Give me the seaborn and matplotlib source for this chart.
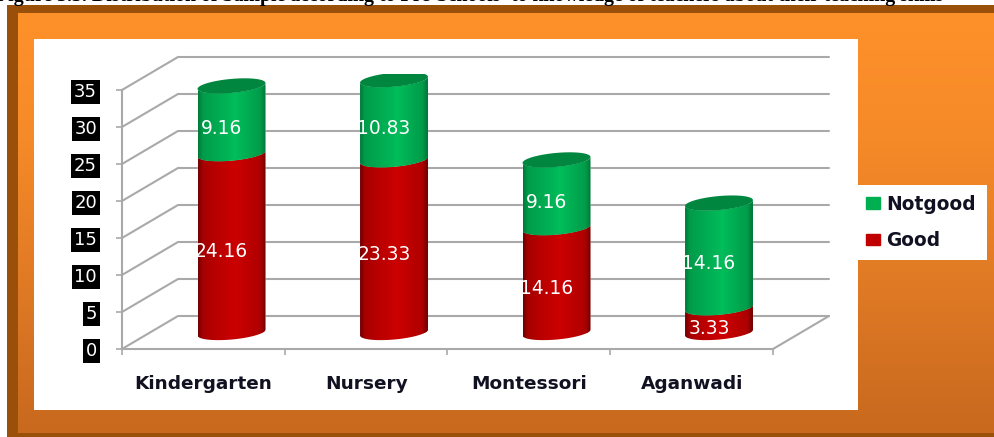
#!/usr/bin/env python
# -*- coding: utf-8 -*-

import numpy as np
import matplotlib
matplotlib.use("Agg")
import matplotlib.pyplot as plt
import seaborn as sns
from matplotlib.colors import LinearSegmentedColormap
from matplotlib.patches import Patch, Polygon, Rectangle

# ==========================
# Data
# ==========================
categories = ['Kindergarten', 'Nursery', 'Montessori', 'Aganwadi']
good = [24.16, 23.33, 14.16, 3.33]
notgood = [9.16, 10.83, 9.16, 14.16]
y_ticks = [0, 5, 10, 15, 20, 25, 30, 35]
title_text = "Figure 3.3. Distribution of Sample according to Pre-Schools' to knowledge of teachers about their teaching skills"

W, H = 995, 437
GRID = '#a9a9a9'
DEPTH_X = 56 / 162.75   # wall depth in category units
DEPTH_Y = 33 / 7.4      # wall depth in value units
CAP_B = 0.95            # ellipse half height, value units
CAP_TILT = 0.4          # ellipse tilt, value units

sns.set_theme(style="white")
plt.rcParams['font.family'] = ['DejaVu Sans']

fig = plt.figure(figsize=(W / 100, H / 100), dpi=100, facecolor='white')


def px_axes(x0, y0, x1, y1):
    # axes given in picture pixels (y going down)
    return fig.add_axes([x0 / W, 1 - y1 / H, (x1 - x0) / W, (y1 - y0) / H])


# ------ Frame and panels ------
bg = px_axes(0, 0, W, H)
bg.set_xlim(0, W)
bg.set_ylim(H, 0)
bg.axis('off')
bg.add_patch(Rectangle((7, 5), W, H, color='#9b500a', lw=0))
orange = LinearSegmentedColormap.from_list(
    'orange', [(0, '#ff912a'), (0.3, '#f58a28'), (0.7, '#dc7724'), (1, '#c8691e')])
bg.imshow(np.linspace(0, 1, 256).reshape(-1, 1), cmap=orange, aspect='auto',
          extent=(18, W, 433, 13), zorder=1)
bg.set_xlim(0, W)
bg.set_ylim(H, 0)
bg.add_patch(Rectangle((34, 39), 824, 371, color='white', lw=0, zorder=2))
bg.add_patch(Rectangle((858, 185), 129, 75, color='white', lw=0, zorder=2))
# the caption is cut by the top edge in the reference as well
fig.text(-4 / W, 1 - 1.5 / H, title_text, family='Liberation Serif', weight='bold',
         fontsize=14.3, color='black', va='baseline')

# ------ Front plane: walls, ticks, labels ------
front = px_axes(122, 90, 773, 349)
front.patch.set_visible(False)
front.set_xlim(-0.5, 3.5)
front.set_ylim(0, 35)
for v in y_ticks:
    front.plot([-0.5, -0.5 + DEPTH_X, 3.5 + DEPTH_X], [v, v + DEPTH_Y, v + DEPTH_Y],
               color=GRID, lw=1.5, clip_on=False, zorder=1)
front.plot([3.5, 3.5 + DEPTH_X], [0, DEPTH_Y], color=GRID, lw=1.5, clip_on=False, zorder=1)

for side in ['top', 'right']:
    front.spines[side].set_visible(False)
for side in ['left', 'bottom']:
    front.spines[side].set_color(GRID)
    front.spines[side].set_linewidth(1.5)

front.set_yticks(y_ticks)
front.set_yticklabels([str(v) for v in y_ticks], color='white', fontsize=13)
front.tick_params(axis='y', left=True, length=4.5, width=1.2, color=GRID, pad=13.5)
for lab in front.get_yticklabels():
    lab.set_bbox(dict(facecolor='black', edgecolor='none', pad=2))

front.set_xticks(range(len(categories)))
front.set_xticklabels(categories, fontsize=13.3, weight='bold', color='#111122')
front.set_xticks(np.arange(-0.5, 4), minor=True)
front.tick_params(axis='x', which='major', bottom=False, length=0, pad=19)
front.tick_params(axis='x', which='minor', bottom=True, length=4.5, width=1.2, color=GRID)

# ------ Bars, in the plane halfway through the depth ------
# value axis runs a little below zero so the rounded cylinder bottoms are not cut
ax = px_axes(150.25, 73.5, 800.25, 332.5 + 3 * 7.4)
ax.patch.set_visible(False)
sns.barplot(x=categories, y=good, color='#c00000', saturation=1, width=0.418, ax=ax)
n_good = len(ax.patches)
sns.barplot(x=categories, y=notgood, bottom=good, color='#00b050', saturation=1, width=0.418, ax=ax)
ax.axis('off')

red_map = LinearSegmentedColormap.from_list(
    'red', [(0, '#720000'), (0.07, '#a60000'), (0.25, '#b80000'), (0.55, '#cc0000'),
            (0.92, '#ae0000'), (1, '#6e0000')])
green_map = LinearSegmentedColormap.from_list(
    'green', [(0, '#007a3a'), (0.07, '#009c4a'), (0.25, '#00a850'), (0.55, '#00bd5a'),
              (0.92, '#009c4a'), (1, '#00763a')])

t_front = np.linspace(np.pi, 2 * np.pi, 50)
t_cap = np.linspace(0, 2 * np.pi, 80)

for i, p in enumerate(ax.patches):
    cx = p.get_x() + p.get_width() / 2
    a = p.get_width() / 2
    v0, v1 = p.get_y(), p.get_y() + p.get_height()
    arc_x = cx + a * np.cos(t_front)
    arc_y = CAP_B * np.sin(t_front) + CAP_TILT * np.cos(t_front)
    body = np.vstack([np.column_stack([arc_x, v0 + arc_y]),
                      np.column_stack([arc_x[::-1], v1 + arc_y[::-1]])])
    cap_x = cx + a * np.cos(t_cap)
    cap_y = v1 + CAP_B * np.sin(t_cap) + CAP_TILT * np.cos(t_cap)
    sil = Polygon(body, transform=ax.transData)
    # the plain bar stays underneath, the shaded body goes on top of it
    p.set_clip_path(sil)
    p.set_zorder(2)
    cmap = red_map if i < n_good else green_map
    im = ax.imshow(np.linspace(0, 1, 128).reshape(1, -1), cmap=cmap, aspect='auto',
                   extent=(cx - a, cx + a, v0 - 2, v1 + 2), zorder=3)
    im.set_clip_path(sil)
    if i >= n_good:
        ax.add_patch(Polygon(np.column_stack([cap_x, cap_y]), color='#00863f', lw=0, zorder=4))
    mid = v0 + p.get_height() / 2
    val = good[i] if i < n_good else notgood[i - n_good]
    ax.annotate(f"{val:.2f}", (cx, mid), xytext=(-7.2, -6.1), textcoords='offset points',
                ha='center', va='center', color='white', fontsize=13.4, zorder=5,
                annotation_clip=False)

ax.set_xlim(-0.5, 3.5)
ax.set_ylim(-3, 35)

# ------ Legend ------
handles = [Patch(color='#00b050', label='Notgood'), Patch(color='#c00000', label='Good')]
ax.legend(handles=handles, loc='center left', frameon=False,
          bbox_to_anchor=(860 / W, 1 - 222.5 / H), bbox_transform=fig.transFigure,
          prop=dict(weight='bold', size=13.4), labelcolor='#111122',
          handlelength=0.8, handleheight=0.55, handletextpad=0.32, labelspacing=0.95,
          borderpad=0.3, borderaxespad=0)

fig.savefig('out.png', dpi=100)
